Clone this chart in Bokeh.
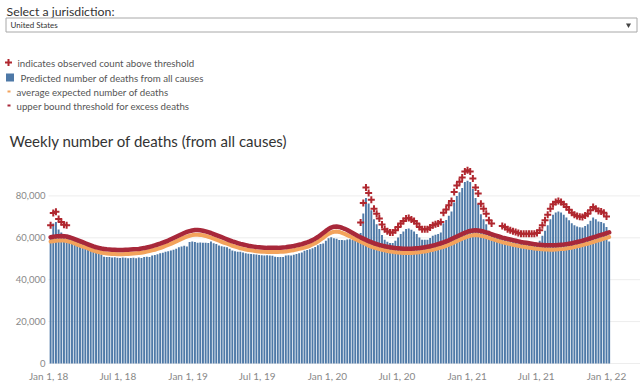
from datetime import datetime, timedelta
import pandas as pd
from bokeh.plotting import figure
from bokeh.models import Range1d, FixedTicker, NumeralTickFormatter, ColumnDataSource
from bokeh.embed import file_html
from bokeh.resources import INLINE
from bokeh.core.properties import value

# ---------------- data ----------------
jurisdiction = "United States"
first_week = "2018-01-06"   # week-ending date of the first bar

predicted = [
    61000, 66800, 67500, 64000, 62500, 61200, 61000, 59800, 59400, 59000,
    58300, 57600, 57200, 56500, 55900, 55300, 54800, 54200, 53600, 52000,
    51000, 50800, 50900, 50600, 50700, 50500, 50400, 50600, 50500, 50300,
    50400, 50500, 50300, 50600, 50400, 50800, 51000, 50900, 51500, 51800,
    52200, 52600, 52900, 53300, 53600, 54000, 54300, 54800, 55500, 55800,
    56200, 55800, 58000, 58200, 58000, 57700, 57800, 57600, 57700, 57500,
    58300, 57400, 57000, 56300, 56000, 55700, 55500, 54800, 54000, 53600,
    53400, 53300, 53000, 52600, 52400, 52300, 52200, 52000, 51800, 51700,
    51600, 51700, 51500, 51400, 51000, 50900, 50800, 50900, 51500, 51700,
    51600, 51900, 52300, 52600, 53000, 53800, 54200, 54500, 55000, 55600,
    56400, 57000, 57300, 58600, 59800, 60300, 59800, 59500, 59000, 58900,
    58800, 59200, 59300, 59000, 58700, 58500, 62300, 71600, 79000, 76400,
    73200, 68900, 66500, 64200, 61300, 59100, 58100, 57500, 57500, 58600,
    60200, 61800, 63000, 64200, 64500, 63800, 63000, 61800, 60200, 59100,
    59100, 59100, 59900, 61000, 61500, 61800, 62500, 67000, 68500, 70500,
    72600, 76900, 80000, 81800, 83800, 86700, 87200, 86700, 83300, 79000,
    76100, 71300, 68900, 66500, 63400, 61800, 60800, 60200, 59700, 60600,
    60200, 59100, 58600, 58100, 57800, 57300, 57000, 57000, 56900, 57000,
    56900, 57000, 57300, 58600, 61000, 63400, 66000, 68900, 71000, 72100,
    72600, 72100, 71000, 69700, 68400, 67000, 66000, 65400, 65000, 64900,
    65700, 66500, 68100, 69700, 68900, 67800, 67600, 67000, 65200, 58300,
]

expected = [
    58200, 58400, 58600, 58700, 58800, 58700, 58500, 58200, 57800, 57300,
    56800, 56300, 55800, 55400, 54900, 54400, 53900, 53500, 53200, 52900,
    52700, 52500, 52400, 52300, 52300, 52200, 52200, 52200, 52300, 52300,
    52400, 52500, 52600, 52700, 52900, 53100, 53400, 53700, 54000, 54300,
    54700, 55100, 55600, 56100, 56600, 57100, 57700, 58300, 58900, 59500,
    60100, 60600, 61000, 61300, 61500, 61500, 61400, 61200, 60900, 60500,
    60100, 59600, 59100, 58600, 58100, 57600, 57200, 56700, 56200, 55800,
    55400, 55000, 54700, 54400, 54200, 54000, 53800, 53600, 53500, 53400,
    53300, 53200, 53200, 53200, 53200, 53200, 53300, 53400, 53500, 53700,
    53900, 54100, 54400, 54700, 55000, 55300, 55700, 56200, 56800, 57400,
    58200, 59100, 60000, 61000, 61900, 62500, 62900, 63000, 62800, 62400,
    61900, 61300, 60700, 60000, 59400, 58700, 58100, 57500, 56900, 56300,
    55800, 55300, 55000, 54600, 54300, 54000, 53700, 53500, 53300, 53100,
    53000, 52900, 52800, 52800, 52800, 52800, 52900, 53000, 53100, 53300,
    53500, 53700, 54000, 54300, 54600, 55000, 55300, 55700, 56200, 56700,
    57200, 57800, 58400, 59000, 59600, 60100, 60600, 61000, 61200, 61300,
    61200, 61000, 60700, 60400, 60000, 59500, 59100, 58700, 58300, 57900,
    57600, 57300, 57000, 56700, 56400, 56200, 55900, 55700, 55500, 55300,
    55100, 54900, 54800, 54600, 54500, 54400, 54400, 54300, 54300, 54400,
    54500, 54600, 54700, 54900, 55100, 55300, 55600, 55900, 56200, 56500,
    56900, 57200, 57600, 58000, 58400, 58800, 59200, 59600, 60000, 60400,
]

threshold = [
    60300, 60500, 60700, 60800, 60900, 60800, 60600, 60300, 59900, 59400,
    58900, 58400, 57900, 57400, 56900, 56400, 55900, 55500, 55200, 54900,
    54700, 54500, 54400, 54300, 54300, 54200, 54200, 54200, 54300, 54300,
    54400, 54500, 54600, 54700, 54900, 55100, 55400, 55700, 56000, 56400,
    56800, 57200, 57700, 58200, 58700, 59300, 59900, 60500, 61100, 61700,
    62300, 62800, 63200, 63500, 63700, 63700, 63600, 63400, 63100, 62700,
    62300, 61800, 61300, 60800, 60300, 59800, 59300, 58800, 58300, 57900,
    57500, 57100, 56800, 56500, 56200, 56000, 55800, 55600, 55500, 55400,
    55300, 55200, 55200, 55200, 55200, 55200, 55300, 55400, 55500, 55700,
    55900, 56100, 56400, 56700, 57000, 57400, 57800, 58300, 58900, 59600,
    60400, 61300, 62300, 63300, 64200, 64900, 65300, 65400, 65200, 64800,
    64300, 63700, 63000, 62300, 61600, 60900, 60200, 59600, 59000, 58400,
    57900, 57400, 57000, 56600, 56300, 56000, 55700, 55500, 55300, 55100,
    55000, 54900, 54800, 54800, 54800, 54800, 54900, 55000, 55100, 55300,
    55500, 55700, 56000, 56300, 56600, 57000, 57400, 57800, 58300, 58800,
    59400, 60000, 60600, 61200, 61800, 62400, 62900, 63300, 63500, 63600,
    63500, 63300, 63000, 62600, 62200, 61700, 61300, 60900, 60500, 60100,
    59800, 59500, 59200, 58900, 58600, 58300, 58000, 57800, 57600, 57400,
    57200, 57000, 56800, 56700, 56600, 56500, 56400, 56400, 56400, 56500,
    56600, 56700, 56800, 57000, 57200, 57400, 57700, 58000, 58300, 58600,
    59000, 59400, 59800, 60200, 60600, 61000, 61400, 61800, 62200, 62600,
]

# weeks whose observed count is above the upper-bound threshold (first, last week-ending date)
excess_periods = [
    ("2018-01-06", "2018-02-17"),
    ("2020-03-28", "2021-03-06"),
    ("2021-04-03", "2022-01-01"),
]

y_ticks = [0, 20000, 40000, 60000, 80000]
x_tick_dates = ["2018-01-01", "2018-07-01", "2019-01-01", "2019-07-01", "2020-01-01",
                "2020-07-01", "2021-01-01", "2021-07-01", "2022-01-01"]
x_tick_labels = ["Jan 1, 18", "Jul 1, 18", "Jan 1, 19", "Jul 1, 19", "Jan 1, 20",
                 "Jul 1, 20", "Jan 1, 21", "Jul 1, 21", "Jan 1, 22"]

selector_label = "Select a jurisdiction:"
legend_labels = ["indicates observed count above threshold",
                 "Predicted number of deaths from all causes",
                 "average expected number of deaths",
                 "upper bound threshold for excess deaths"]
chart_title = "Weekly number of deaths (from all causes)"

# ---------------- styles / layout ----------------
FONT = "Lato"
BAR_COLOR = "#4e79a7"
EXP_COLOR = "#f3a35c"
THR_COLOR = "#a8283a"
PLUS_COLOR = "#b0272f"
GRID_COLOR = "#ededed"
PLUS_OFFSET = 5000          # plus sign is drawn just above its bar
DAY_MS = 86400000

W, H = 640, 388
CHART_LEFT = 48             # page px where the bar area starts
CHART_TOP = 164             # page px of the top of the value axis
BASE = 363                  # page px of the zero line
FRAME_BOTTOM = 368          # page px of the plot frame bottom
Y_MAX_AT_TOP = 95000        # value at CHART_TOP
PX_PER_DAY = 0.3818

# ---------------- build data ----------------
dates = pd.date_range(first_week, periods=len(predicted), freq="7D")
src = ColumnDataSource(dict(date=dates, predicted=predicted,
                            expected=expected, threshold=threshold))

flag_x, flag_y = [], []
for d, v in zip(dates, predicted):
    for a, b in excess_periods:
        if pd.Timestamp(a) <= d <= pd.Timestamp(b):
            flag_x.append(d)
            flag_y.append(v + PLUS_OFFSET)
            break

# ---------------- figure ----------------
chart_left_date = datetime(2017, 12, 31, 12)
x_start = chart_left_date - timedelta(days=CHART_LEFT / PX_PER_DAY)
x_end = x_start + timedelta(days=W / PX_PER_DAY)
per_px = Y_MAX_AT_TOP / (BASE - CHART_TOP)
y_start = -(FRAME_BOTTOM - BASE) * per_px
y_end = BASE * per_px

p = figure(width=W, height=H, x_axis_type="datetime",
           x_range=Range1d(x_start, x_end), y_range=Range1d(y_start, y_end),
           output_backend="svg", toolbar_location=None,
           min_border_left=0, min_border_right=0, min_border_top=0,
           min_border_bottom=H - FRAME_BOTTOM, outline_line_color=None)
# pixel-space ranges for the header block (selector, legend, title)
p.extra_x_ranges = {"px": Range1d(0, W)}
p.extra_y_ranges = {"px": Range1d(FRAME_BOTTOM, 0)}

chart_left_ms = pd.Timestamp(chart_left_date).value // 10**6
x_end_ms = pd.Timestamp(x_end).value // 10**6

# horizontal gridlines over the chart area only
p.ygrid.visible = False
p.xgrid.visible = False
p.segment(x0=[chart_left_ms] * len(y_ticks), x1=[x_end_ms] * len(y_ticks),
          y0=y_ticks, y1=y_ticks, line_color=GRID_COLOR, line_width=1,
          level="underlay")

p.vbar(x="date", top="predicted", width=5 * DAY_MS, bottom=0, source=src,
       fill_color=BAR_COLOR, line_color=None)
p.line(x="date", y="expected", source=src, line_width=4, line_color=EXP_COLOR,
       line_join="round", line_cap="round")
p.line(x="date", y="threshold", source=src, line_width=4.5, line_color=THR_COLOR,
       line_join="round", line_cap="round")
p.scatter(x=flag_x, y=flag_y, marker="cross", size=7, line_width=2,
          line_color=PLUS_COLOR)

tick_ms = [int(pd.Timestamp(d).value // 10**6) for d in x_tick_dates]
p.xaxis.ticker = FixedTicker(ticks=tick_ms)
p.xaxis.major_label_overrides = {t: l for t, l in zip(tick_ms, x_tick_labels)}
p.yaxis.ticker = FixedTicker(ticks=y_ticks)
p.yaxis.formatter = NumeralTickFormatter(format="0,0")
p.yaxis.fixed_location = chart_left_ms

for ax in (p.xaxis, p.yaxis):
    ax.axis_line_color = None
    ax.major_tick_line_color = None
    ax.minor_tick_line_color = None
    ax.major_tick_out = 0
    ax.major_tick_in = 0
    ax.minor_tick_out = 0
    ax.major_label_text_font = FONT
    ax.major_label_text_color = "#888888"
p.xaxis.major_label_text_font_size = "10px"
p.yaxis.major_label_text_font_size = "9.5px"
p.xaxis.major_label_standoff = 1
p.yaxis.major_label_standoff = 3

# ---------------- header block (pixel coordinates) ----------------
F = value(FONT)
PX = dict(x_range_name="px", y_range_name="px")

p.text(x=[6], y=[10.5], text=[selector_label], text_font=F, text_font_size="12.3px",
       text_color="#333333", text_baseline="middle", **PX)
p.quad(left=[5.5], right=[636.5], top=[17.5], bottom=[31.5], fill_color="white",
       line_color="#a8a8a8", line_width=1, **PX)
p.text(x=[10], y=[24.5], text=[jurisdiction], text_font=F, text_font_size="8px",
       text_color="#333333", text_baseline="middle", **PX)
p.scatter(x=[628], y=[24.5], marker="inverted_triangle", size=5,
          fill_color="#444444", line_color=None, **PX)

leg_y = [62, 77, 91, 105]
p.scatter(x=[8], y=[leg_y[0]], marker="cross", size=7, line_width=2,
          line_color=PLUS_COLOR, **PX)
p.scatter(x=[9.5], y=[leg_y[1]], marker="square", size=8,
          fill_color=BAR_COLOR, line_color=None, **PX)
p.segment(x0=[7], x1=[10], y0=[leg_y[2]], y1=[leg_y[2]], line_width=2,
          line_color=EXP_COLOR, **PX)
p.segment(x0=[7], x1=[10], y0=[leg_y[3]], y1=[leg_y[3]], line_width=2,
          line_color=THR_COLOR, **PX)
p.text(x=[17, 20, 16, 16], y=leg_y, text=legend_labels, text_font=F,
       text_font_size="9.7px", text_color="#555555", text_baseline="middle", **PX)

p.text(x=[9], y=[140], text=[chart_title], text_font=F, text_font_size="15px",
       text_color="#333333", text_baseline="middle", **PX)

open("out.html", "w").write(file_html(p, INLINE))
